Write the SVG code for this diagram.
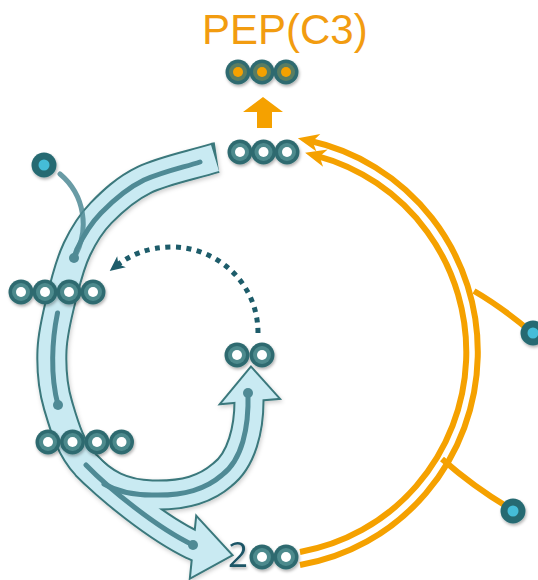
<svg xmlns="http://www.w3.org/2000/svg" width="538" height="580" viewBox="0 0 538 580">
<defs>
<style>
.org{fill:none;stroke:#f5a100;stroke-width:6}
.bd{fill:none;stroke:#3a787c;stroke-width:31}
.bl{fill:none;stroke:#c9eaf2;stroke-width:27}
.hd{fill:#3a787c;stroke:#3a787c;stroke-width:4;stroke-linejoin:miter}
.hl{fill:#c9eaf2}
.inner{fill:none;stroke:#4f8a95;stroke-width:5;stroke-linecap:round}
.dot{fill:#4f8a95}
.c-out{fill:#2e6b6f}
.c-ring{fill:#4d8a8d}
.c-w{fill:#ffffff}
.lbl{font-family:'Open Sans','Liberation Sans',sans-serif}
</style>
<filter id="sh" x="-20%" y="-20%" width="140%" height="140%"><feDropShadow dx="1" dy="2" stdDeviation="1.5" flood-color="#000" flood-opacity="0.3"/></filter>
<filter id="shb" x="-10%" y="-10%" width="120%" height="120%"><feDropShadow dx="1" dy="2" stdDeviation="2" flood-color="#000" flood-opacity="0.2"/></filter>
<g id="carbon"><circle r="12.5" class="c-out"/><circle r="9" class="c-ring"/><circle r="5" class="c-w"/></g>
<g id="carbonP"><circle r="12.5" class="c-out"/><circle r="9" fill="#5a7d62"/><circle r="5" fill="#f5a100"/></g>
<g id="cin"><circle r="12.5" fill="#276b72"/><circle r="5.5" fill="#45bdd8"/></g>
<marker id="oa" markerUnits="userSpaceOnUse" viewBox="-10 -10 24 20" markerWidth="24" markerHeight="20" refX="0" refY="0" orient="auto"><path d="M12,0 L-9,-9 L-3,0 L-9,9 z" fill="#f5a100"/></marker>
<marker id="da" markerUnits="userSpaceOnUse" viewBox="-8 -8 18 16" markerWidth="18" markerHeight="16" refX="0" refY="0" orient="auto"><path d="M8,0 L-7,-7 L-3,0 L-7,7 z" fill="#1d5c6a"/></marker>
</defs>

<g id="connectors">
  <g id="orange-cycle">
    <path class="org" d="M300,565 A213 216 0 0 0 309.6,140.8" marker-end="url(#oa)"/>
    <path class="org" d="M300,552 A201 203 0 0 0 316.7,155.8" marker-end="url(#oa)"/>
    <path class="org" d="M474,291 Q500,306 530,331"/>
    <path class="org" d="M442,459 Q475,488 511,509"/>
  </g>
  <g id="blue-arrows" filter="url(#shb)">
    <path class="bd" d="M217,157.7 L215,158 C191.3,165.3 163,170.8 144,180 C125,189.2 112.2,201.5 101,213 C89.8,224.5 83.3,235.8 77,249 C70.7,262.2 67.2,275.2 63,292 C58.8,308.8 52.8,330.5 52,350 C51.2,369.5 52.3,385.8 58,405 C63.7,424.2 70,448 86,465 C108.5,488.3 157,527.8 193,545 L200,548"/>
    <path class="bd" d="M86,465 C104,484 122,494 152,495 C185,496 206,489 222,475 C242,460 249,428 249,401 L249,392"/>
    <polygon class="hd" points="197,518 231,555 191,577"/>
    <polygon class="hd" points="222,403 251,368 278,398"/>
    <path class="bl" d="M215,158 C191.3,165.3 163,170.8 144,180 C125,189.2 112.2,201.5 101,213 C89.8,224.5 83.3,235.8 77,249 C70.7,262.2 67.2,275.2 63,292 C58.8,308.8 52.8,330.5 52,350 C51.2,369.5 52.3,385.8 58,405 C63.7,424.2 70,448 86,465 C108.5,488.3 157,527.8 193,545 L200,548"/>
    <path class="bl" d="M86,465 C104,484 122,494 152,495 C185,496 206,489 222,475 C242,460 249,428 249,401 L249,392"/>
    <polygon class="hl" points="197,518 231,555 191,577"/>
    <polygon class="hl" points="222,403 251,368 278,398"/>
  </g>
  <g id="inner-lines">
    <path class="inner" d="M200,162 C185,167 165,171 144,180 C125,189.2 112.2,201.5 101,213 C89.8,224.5 83.3,235.8 77,249 Q75.5,253 74,258"/>
    <path class="inner" d="M57.5,313 C52,340 50,375 58,405"/>
    <path class="inner" d="M86,465 C108.5,488.3 157,527.8 193,545"/>
    <path class="inner" d="M104,484 C118,492 132,495 152,495 C185,496 206,489 222,475 C242,460 249,428 248,393"/>
    <path class="inner" d="M60,174 C85,195 90,230 74,258" opacity="0.85"/>
    <circle class="dot" cx="74" cy="258" r="5"/>
    <circle class="dot" cx="58" cy="405" r="5"/>
    <circle class="dot" cx="193" cy="545" r="5"/>
    <circle class="dot" cx="248" cy="393" r="5"/>
  </g>
  <path id="dotted-return" d="M258,333 C258,282 216,247 172,247 C148,247 130,255 116,266" fill="none" stroke="#1d5c6a" stroke-width="5" stroke-dasharray="5 5.5" marker-end="url(#da)"/>
  <polygon id="to-pep" points="263,97 283,112 272,112 272,128 257,128 257,112 243,112" fill="#f5a100"/>
</g>

<g id="pep-label"><text x="202" y="44" font-family="'Liberation Sans',Arial,sans-serif" font-size="42" fill="#f29c10">PEP(C3)</text></g>
<g id="pep-c3" filter="url(#sh)"><use href="#carbonP" x="238" y="72"/><use href="#carbonP" x="262" y="72"/><use href="#carbonP" x="286" y="72"/></g>
<g id="c3-top" filter="url(#sh)"><use href="#carbon" x="240" y="152"/><use href="#carbon" x="263.5" y="152"/><use href="#carbon" x="287" y="152"/></g>
<g id="c4-upper" filter="url(#sh)"><use href="#carbon" x="21" y="292"/><use href="#carbon" x="45" y="292"/><use href="#carbon" x="69" y="292"/><use href="#carbon" x="93" y="292"/></g>
<g id="c4-lower" filter="url(#sh)"><use href="#carbon" x="48" y="442"/><use href="#carbon" x="72.5" y="442"/><use href="#carbon" x="97" y="442"/><use href="#carbon" x="121.5" y="442"/></g>
<g id="c2-middle" filter="url(#sh)"><use href="#carbon" x="237" y="355"/><use href="#carbon" x="262" y="355"/></g>
<g id="c2-bottom" filter="url(#sh)"><text class="lbl" x="228" y="567" font-size="35" fill="#1c5566">2</text><use href="#carbon" x="262" y="557"/><use href="#carbon" x="286" y="557"/></g>
<g id="c1-left" filter="url(#sh)"><use href="#cin" x="44" y="165"/></g>
<g id="c1-right" filter="url(#sh)"><use href="#cin" x="533" y="333"/></g>
<g id="c1-lower-right" filter="url(#sh)"><use href="#cin" x="513" y="511"/></g>
</svg>
